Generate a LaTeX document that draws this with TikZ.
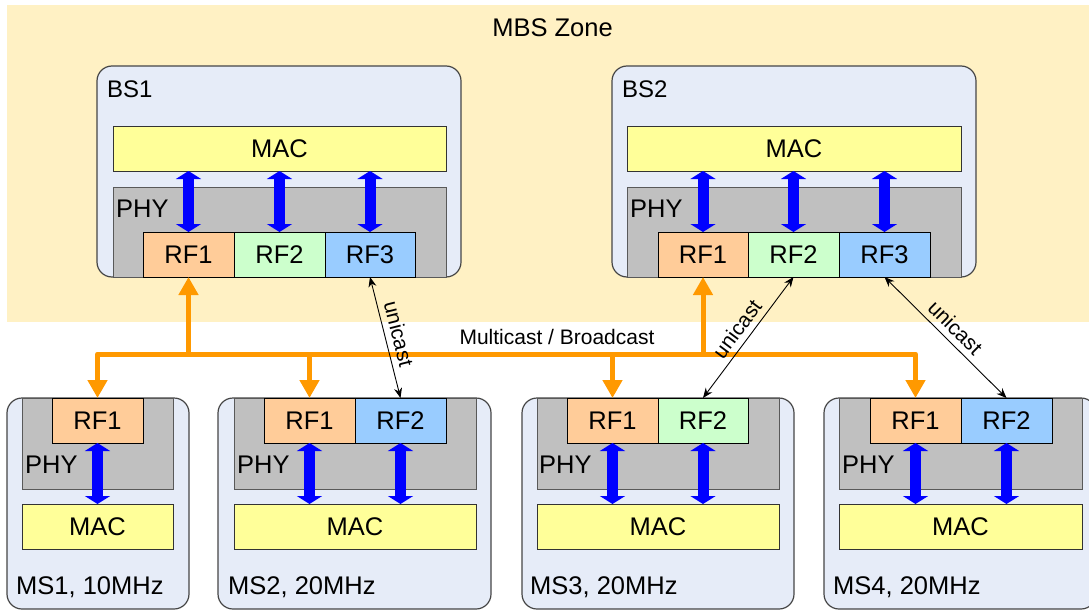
\documentclass[tikz,border=0pt]{standalone}
\usepackage{fontspec}
\setmainfont{Liberation Sans}
\usetikzlibrary{arrows.meta}
\definecolor{zonefill}{RGB}{255,241,196}
\definecolor{stfill}{RGB}{230,236,248}
\definecolor{macfill}{RGB}{255,255,153}
\definecolor{phyfill}{RGB}{192,192,192}
\definecolor{rfocol}{RGB}{255,204,153}
\definecolor{rfgcol}{RGB}{204,255,204}
\definecolor{rfbcol}{RGB}{153,204,255}
\definecolor{busorange}{RGB}{255,153,0}
\definecolor{edgegray}{RGB}{70,70,70}
\newcommand\mkbox[7]{\node[#1, anchor=north west, minimum width=#5pt-#3pt, minimum height=#6pt-#4pt] (#2) at (#3,#4) {#7};}
\begin{document}
\begin{tikzpicture}[x=1pt, y=-1pt,
  basebox/.style={inner sep=0pt, outer sep=0pt, font=\fontsize{25.5}{30}\selectfont},
  zonebox/.style={basebox, fill=zonefill, draw=none},
  stbox/.style={basebox, draw=edgegray, line width=1.2pt, fill=stfill, rounded corners=15pt},
  macbox/.style={basebox, draw=black!80, line width=0.9pt, fill=macfill},
  phybox/.style={basebox, draw=black!65, line width=0.9pt, fill=phyfill},
  rfbox/.style={basebox, draw=black, line width=0.9pt},
  rforange/.style={rfbox, fill=rfocol},
  rfgreen/.style={rfbox, fill=rfgcol},
  rfblue/.style={rfbox, fill=rfbcol},
  lbl/.style={inner sep=0pt, font=\fontsize{25.5}{30}\selectfont, anchor=base west},
  bslbl/.style={inner sep=0pt, font=\fontsize{24}{29}\selectfont, anchor=base west},
  biarrow/.style={draw=blue, line width=11pt, {Triangle[width=25pt,length=8pt]}-{Triangle[width=25pt,length=8pt]}},
  obus/.style={draw=busorange, line width=5pt, line join=round},
  otip/.style={-{Triangle[width=19pt,length=18pt]}},
  uni/.style={draw=black, line width=0.9pt, {Stealth[length=10pt,width=8pt]}-{Stealth[length=10pt,width=8pt]}},
  unilbl/.style={midway, sloped, above, inner sep=6pt, font=\fontsize{21}{24}\selectfont}
]
\clip (0,0) rectangle (1089,610);
\fill[white] (0,0) rectangle (1089,610);
% MBS zone
\mkbox{zonebox}{zone}{7}{5}{1089}{322}{}
\node[inner sep=0pt, anchor=base, font=\fontsize{25.5}{30}\selectfont] (zonelbl) at (552.5,37) {MBS Zone};

% BS1
\mkbox{stbox}{bs1}{97}{66}{461}{277}{}
\node[bslbl] (bs1lbl) at (107,97) {BS1};
\mkbox{macbox}{bs1mac}{113}{126}{446}{171}{MAC}
\mkbox{phybox}{bs1phy}{113}{187}{446}{277}{}
\node[lbl] (bs1phylbl) at (116,217) {PHY};
\mkbox{rforange}{bs1rf1}{143}{232}{234}{277}{RF1}
\mkbox{rfgreen}{bs1rf2}{234}{232}{325}{277}{RF2}
\mkbox{rfblue}{bs1rf3}{325}{232}{415}{277}{RF3}

% BS2
\mkbox{stbox}{bs2}{612}{66}{976}{277}{}
\node[bslbl] (bs2lbl) at (622,97) {BS2};
\mkbox{macbox}{bs2mac}{627}{126}{961}{171}{MAC}
\mkbox{phybox}{bs2phy}{627}{187}{961}{277}{}
\node[lbl] (bs2phylbl) at (630,217) {PHY};
\mkbox{rforange}{bs2rf1}{658}{232}{748}{277}{RF1}
\mkbox{rfgreen}{bs2rf2}{748}{232}{839}{277}{RF2}
\mkbox{rfblue}{bs2rf3}{839}{232}{930}{277}{RF3}

% MS1
\mkbox{stbox}{ms1}{7}{398}{189}{609}{}
\mkbox{phybox}{ms1phy}{22}{398}{173}{489}{}
\node[lbl] (ms1phylbl) at (25,473) {PHY};
\mkbox{rforange}{ms1rf1}{52}{398}{143}{443}{RF1}
\mkbox{macbox}{ms1mac}{22}{504}{173}{549}{MAC}
\node[lbl] (ms1lbl) at (16,594) {MS1, 10MHz};

% MS2
\mkbox{stbox}{ms2}{218}{398}{491}{609}{}
\mkbox{phybox}{ms2phy}{234}{398}{476}{489}{}
\node[lbl] (ms2phylbl) at (237,473) {PHY};
\mkbox{rforange}{ms2rf1}{264}{398}{355}{443}{RF1}
\mkbox{rfblue}{ms2rf2}{355}{398}{446}{443}{RF2}
\mkbox{macbox}{ms2mac}{234}{504}{476}{549}{MAC}
\node[lbl] (ms2lbl) at (228,594) {MS2, 20MHz};

% MS3
\mkbox{stbox}{ms3}{522}{398}{794}{609}{}
\mkbox{phybox}{ms3phy}{537}{398}{779}{489}{}
\node[lbl] (ms3phylbl) at (539,473) {PHY};
\mkbox{rforange}{ms3rf1}{567}{398}{658}{443}{RF1}
\mkbox{rfgreen}{ms3rf2}{658}{398}{748}{443}{RF2}
\mkbox{macbox}{ms3mac}{537}{504}{779}{549}{MAC}
\node[lbl] (ms3lbl) at (530,594) {MS3, 20MHz};

% MS4
\mkbox{stbox}{ms4}{824}{398}{1096}{609}{}
\mkbox{phybox}{ms4phy}{839}{398}{1082}{489}{}
\node[lbl] (ms4phylbl) at (842,473) {PHY};
\mkbox{rforange}{ms4rf1}{870}{398}{961}{443}{RF1}
\mkbox{rfblue}{ms4rf2}{961}{398}{1052}{443}{RF2}
\mkbox{macbox}{ms4mac}{839}{504}{1082}{549}{MAC}
\node[lbl] (ms4lbl) at (833,594) {MS4, 20MHz};

% MAC <-> RF arrows
\foreach \r in {bs1rf1,bs1rf2,bs1rf3} \draw[biarrow] (\r.north) -- (\r.north |- bs1mac.south);
\foreach \r in {bs2rf1,bs2rf2,bs2rf3} \draw[biarrow] (\r.north) -- (\r.north |- bs2mac.south);
\draw[biarrow] (ms1rf1.south) -- (ms1rf1.south |- ms1mac.north);
\foreach \r in {ms2rf1,ms2rf2} \draw[biarrow] (\r.south) -- (\r.south |- ms2mac.north);
\foreach \r in {ms3rf1,ms3rf2} \draw[biarrow] (\r.south) -- (\r.south |- ms3mac.north);
\foreach \r in {ms4rf1,ms4rf2} \draw[biarrow] (\r.south) -- (\r.south |- ms4mac.north);

% multicast / broadcast bus
\coordinate (bus) at (0,354);
\draw[obus, {Triangle[width=19pt,length=18pt]}-{Triangle[width=19pt,length=18pt]}]
  (ms1rf1.north) -- (ms1rf1.north |- bus) -- (ms4rf1.north |- bus) -- (ms4rf1.north);
\draw[obus, otip] (ms2rf1.north |- bus) -- (ms2rf1.north);
\draw[obus, otip] (ms3rf1.north |- bus) -- (ms3rf1.north);
\draw[obus, otip] (bs1rf1.south |- bus) -- (bs1rf1.south);
\draw[obus, otip] (bs2rf1.south |- bus) -- (bs2rf1.south);
\node[inner sep=0pt, anchor=base, font=\fontsize{21}{25}\selectfont] (mcast) at (557,344) {Multicast / Broadcast};

% unicast links
\draw[uni] (bs1rf3.south) -- node[unilbl] (u1) {unicast} (ms2rf2.north);
\draw[uni] (bs2rf2.south) -- node[unilbl] (u2) {unicast} (ms3rf2.north);
\draw[uni] (bs2rf3.south) -- node[unilbl] (u3) {unicast} (ms4rf2.north);
\end{tikzpicture}
\end{document}
